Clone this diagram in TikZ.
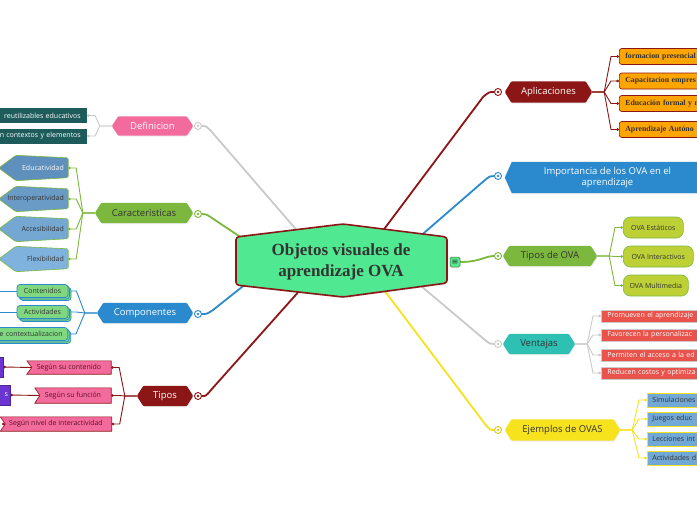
\documentclass[tikz,border=0pt]{standalone}
\usepackage{fontspec}
\setmainfont{Open Sans}
\newfontfamily\serifb{Liberation Serif}
\newfontfamily\symf{DejaVu Sans}
\usetikzlibrary{arrows.meta,shadows}
\pgfdeclarelayer{back}\pgfdeclarelayer{edges}\pgfdeclarelayer{bg}
\pgfsetlayers{back,edges,bg,main}
\definecolor{cgrey}{HTML}{CACACA}
\definecolor{cpink}{HTML}{F26B9C}
\definecolor{cteal}{HTML}{1E5C5C}
\definecolor{cgreen}{HTML}{7CB83E}
\definecolor{cbA}{HTML}{5E8FBD}
\definecolor{cbB}{HTML}{6A9BC7}
\definecolor{cbC}{HTML}{74A7D2}
\definecolor{cbD}{HTML}{7FB3DD}
\definecolor{cblue}{HTML}{2A8ACD}
\definecolor{clgreen}{HTML}{7FD87F}
\definecolor{cred}{HTML}{8C1515}
\definecolor{cpurple}{HTML}{6A35D2}
\definecolor{corange}{HTML}{FFA502}
\definecolor{colive}{HTML}{BDD036}
\definecolor{cturq}{HTML}{2EC0B2}
\definecolor{ccoral}{HTML}{E9534B}
\definecolor{cyellow}{HTML}{F7E21E}
\definecolor{csteel}{HTML}{72A8D6}
\definecolor{cmint}{HTML}{50E890}
\definecolor{cdark}{HTML}{333333}
\definecolor{cmaroon}{HTML}{5C1224}
\newcommand\fsz[1]{\fontsize{#1}{#1}\selectfont}
% hexagonal branch: name, centre, width, height, fill, text colour, text
\newcommand\hexbr[7]{%
  \node[minimum width=#3pt, minimum height=#4pt, inner sep=0pt, text=#6, font=\fsz{9.5}] (#1) at (#2) {#7};
  \begin{pgfonlayer}{bg}
  \fill[#5, rounded corners=1pt, drop shadow={opacity=0.15, shadow xshift=0.8pt, shadow yshift=-0.8pt}] (#1.west) -- ([xshift=6.5pt]#1.north west) -- ([xshift=-6.5pt]#1.north east) -- (#1.east) -- ([xshift=-6.5pt]#1.south east) -- ([xshift=6.5pt]#1.south west) -- cycle;
  \end{pgfonlayer}}
% arrow-shaped child of Caracteristicas: name, y, fill, text colour, text
\newcommand\carc[5]{%
  \node[minimum width=52pt, minimum height=19pt, inner sep=0pt] (#1) at (42,#2) {};
  \node[font=\fsz{7}, text=#4, anchor=east, inner sep=0pt] (#1t) at (64,#2) {#5};
  \begin{pgfonlayer}{bg}
  \filldraw[fill=#3, draw=cgreen, line width=0.6pt, rounded corners=1.5pt] ([xshift=-17pt]#1.west) -- ([yshift=3pt]#1.north west) -- ([yshift=0.5pt]#1.north east) -- (#1.south east) -- ([yshift=-3pt]#1.south west) -- cycle;
  \end{pgfonlayer}}
% notched banner child of Tipos: name
\newcommand\banner[1]{%
  \begin{pgfonlayer}{bg}
  \filldraw[fill=cpink, draw=cred, line width=0.6pt] (#1.north west) -- (#1.north east) -- (#1.south east) -- (#1.south west) -- ([xshift=5pt]#1.west) -- cycle;
  \end{pgfonlayer}}
\newcommand\fanL[3]{\draw[fan=#1] (#2.west) -- ++(-12,0) -- ([xshift=8pt]#3.east) -- (#3.east);}
\newcommand\fanR[3]{\draw[fan=#1] (#2.east) -- ++(12,0) -- ([xshift=-8pt]#3.west) -- (#3.west);}
\begin{document}
\begin{tikzpicture}[x=1pt,y=-1pt,
  knob/.style={circle, draw=#1, fill=white, line width=0.9pt, minimum size=7pt, inner sep=0pt,
    path picture={\fill[#1] (path picture bounding box.center) circle (1.3pt);}},
  mainln/.style={draw=#1, line width=1.8pt},
  fan/.style={draw=#1, line width=0.9pt, -{Circle[length=2.6pt]}},
  defc/.style={fill=cteal, text=white, font=\fsz{7}, anchor=east, text width=120pt, align=right, inner xsep=6pt, inner ysep=0pt, minimum height=15pt},
  compc/.style={fill=clgreen, draw=cblue, line width=0.7pt, rounded corners=3pt, font=\fsz{7}, text=cdark, minimum height=13pt, inner sep=0pt, double copy shadow={shadow xshift=1.5pt, shadow yshift=-1.5pt}},
  tipc/.style={font=\fsz{7}, text=cmaroon, inner sep=0pt},
  applc/.style={fill=corange, draw=cred, line width=0.7pt, rounded corners=2.5pt, font=\serifb\bfseries\fsz{7.8}, text=cdark, anchor=west, text width=120pt, align=left, inner xsep=6pt, inner ysep=0pt, minimum height=16pt},
  tovac/.style={fill=colive, draw=cgreen, line width=0.6pt, rounded corners=7pt, font=\fsz{7}, text=cdark, anchor=west, inner xsep=5pt, inner ysep=0pt, minimum height=21pt},
  venc/.style={fill=ccoral, draw=cgrey, line width=0.9pt, font=\fsz{7}, text=white, anchor=west, text width=120pt, align=left, inner xsep=6pt, inner ysep=0pt, minimum height=12pt},
  ejec/.style={fill=csteel, draw=cyellow, line width=0.9pt, font=\fsz{7}, text=cdark, anchor=west, text width=100pt, align=left, inner xsep=5pt, inner ysep=0pt, minimum height=14pt}
]
\useasboundingbox (0,0) rectangle (697,520);
\begin{pgfonlayer}{back}
\fill[white] (0,0) rectangle (697,520);
\end{pgfonlayer}

% ---------- central node ----------
\node[font={\serifb\bfseries\fontsize{17}{21}\selectfont}, text=cdark, align=center] (ova) at (341,262) {Objetos visuales de\\aprendizaje OVA};
\begin{pgfonlayer}{bg}
\filldraw[fill=cmint, draw=cred, line width=1.6pt, rounded corners=3pt, drop shadow={opacity=0.25, shadow xshift=1pt, shadow yshift=-1pt}]
  (236,237) -- (343,224) -- (447,237) -- (447,283) -- (343,297) -- (236,285) -- cycle;
\end{pgfonlayer}
\node[fill=cmint, draw=cgreen!60!black, line width=0.5pt, rounded corners=1.5pt, minimum size=10pt, inner sep=0pt, font=\symf\fsz{8}, text=cdark] (icon) at (455,262) {≡};
\coordinate (cDef) at (300,234);
\coordinate (cCar) at (245,240);
\coordinate (cComp) at (247,283);
\coordinate (cTip) at (301,289);
\coordinate (cApl) at (382,232);
\coordinate (cImp) at (417,239);
\coordinate (cVen) at (421,286);
\coordinate (cEje) at (384,290);

% ---------- left branches ----------
\hexbr{def}{152.5,126}{81}{19}{cpink}{white}{Definicion}
\hexbr{car}{144,213}{98}{20}{cgreen}{cdark}{Caracteristicas}
\hexbr{comp}{145,313}{96}{20}{cblue}{white}{Componentes}
\hexbr{tip}{165,396}{56}{20}{cred}{white}{Tipos}
\node[knob=cgrey] (kdef) at (198,126) {};
\node[knob=cgreen] (kcar) at (198,214) {};
\node[knob=cblue] (kcomp) at (198,314) {};
\node[knob=cred] (ktip) at (198,396) {};

% Definicion children
\node[defc] (d1) at (87,115.5) {reutilizables educativos};
\node[defc] (d2) at (87,136) {n contextos y elementos};

% Caracteristicas children
\carc{e1}{168}{cbA}{white}{Educatividad}
\carc{e2}{199}{cbB}{cdark}{Interoperatividad}
\carc{e3}{229}{cbC}{cdark}{Accesibilidad}
\carc{e4}{259}{cbD}{cdark}{Flexibilidad}

% Componentes children
\node[compc, minimum width=51pt] (k1) at (42.5,291) {Contenidos};
\node[compc, minimum width=51pt] (k2) at (42.5,312) {Actividades};
\node[compc, anchor=east, text width=80pt, align=right, inner xsep=5pt] (k3) at (68,334) {e contextualizacion};
\coordinate (k1o) at (-3,291);
\coordinate (k2o) at (-3,312);

% Tipos children
\node[tipc, minimum width=84pt, minimum height=13pt] (t1) at (69,367.5) {Según su contenido};
\node[tipc, minimum width=76pt, minimum height=15pt] (t2) at (73,395.5) {Según su función};
\node[tipc, minimum width=111pt, minimum height=14pt] (t3) at (56,424) {Según nivel de interactividad};
\banner{t1}\banner{t2}\banner{t3}
\node[fill=cpurple, draw=cpurple!70!black, line width=0.5pt, minimum width=10pt, minimum height=20pt, inner sep=0pt] (p1) at (-2,367) {};
\node[fill=cpurple, draw=cpurple!70!black, line width=0.5pt, text=white, font=\fsz{7}, minimum height=20pt, text width=11pt, align=right, inner xsep=2pt, inner ysep=0pt] (p2) at (2.5,395) {s};
\coordinate (t3o) at (2,424);

% ---------- right branches ----------
\hexbr{apl}{548.5,92}{87}{21}{cred}{white}{Aplicaciones}
\hexbr{tova}{550,256}{94}{20}{cgreen}{cdark}{Tipos de OVA}
\hexbr{ven}{539,344}{72}{20}{cturq}{cdark}{Ventajas}
\hexbr{eje}{562.5,430}{115}{21}{cyellow}{cdark}{Ejemplos de OVAS}
\node[minimum width=205pt, minimum height=31pt, inner sep=0pt, text=white, font={\fontsize{9.5}{11.5}\selectfont}, align=center] (imp) at (607.5,177.5) {Importancia de los OVA en el\\aprendizaje};
\begin{pgfonlayer}{bg}
\fill[cblue, drop shadow={opacity=0.15, shadow xshift=0.8pt, shadow yshift=-0.8pt}] (imp.west) -- ([xshift=7pt]imp.north west) -- (imp.north east) -- (imp.south east) -- ([xshift=7pt]imp.south west) -- cycle;
\end{pgfonlayer}
\node[knob=cred] (kapl) at (498,92) {};
\node[knob=cblue] (kimp) at (498,176) {};
\node[knob=cgreen] (ktova) at (498,256) {};
\node[knob=cgrey] (kven) at (498,344) {};
\node[knob=cyellow!90!black] (keje) at (498,430) {};

% Aplicaciones children
\node[applc] (a1) at (619,56.5) {formacion presencial};
\node[applc] (a2) at (619,81) {Capacitacion empres};
\node[applc] (a3) at (619,103.5) {Educación formal y n};
\node[applc] (a4) at (619,129.5) {Aprendizaje Autóno};

% Tipos de OVA children
\node[tovac, minimum width=60pt] (o1) at (623,227.5) {OVA Estáticos};
\node[tovac, minimum width=70pt] (o2) at (623,256.5) {OVA Interactivos};
\node[tovac, minimum width=65pt] (o3) at (623,285.5) {OVA Multimedia};

% Ventajas children
\node[venc] (v1) at (601,316) {Promueven el aprendizaje};
\node[venc] (v2) at (601,335) {Favorecen la personalizac};
\node[venc] (v3) at (601,355) {Permiten el acceso a la ed};
\node[venc] (v4) at (601,373) {Reducen costos y optimiza};

% Ejemplos children
\node[ejec] (x1) at (647,400) {Simulaciones};
\node[ejec] (x2) at (647,419) {Juegos educ};
\node[ejec] (x3) at (647,439) {Lecciones int};
\node[ejec] (x4) at (647,458) {Actividades d};

% ---------- connectors ----------
\begin{pgfonlayer}{edges}
\draw[mainln=cgrey] (kdef.east) .. controls (206,126) .. (211,131) -- (cDef);
\draw[mainln=cgreen] (kcar.east) .. controls (206,214) .. (212,218) -- (cCar);
\draw[mainln=cblue] (kcomp.east) .. controls (207,314) .. (213,310) -- (cComp);
\draw[mainln=cred] (ktip.east) .. controls (206,396) .. (211,390) -- (cTip);
\draw[mainln=cred] (kapl.west) .. controls (489,92) .. (483,97) -- (cApl);
\draw[mainln=cblue] (kimp.west) .. controls (490,176) .. (485,180) -- (cImp);
\draw[mainln=cgreen] (icon.east) .. controls (480,262) and (485,256) .. (ktova.west);
\draw[mainln=cgrey] (kven.west) .. controls (490,344) .. (485,340) -- (cVen);
\draw[mainln=cyellow] (keje.west) .. controls (490,430) .. (485,424) -- (cEje);

\fanL{cgrey}{def}{d1}\fanL{cgrey}{def}{d2}
\fanL{cgreen}{car}{e1}\fanL{cgreen}{car}{e2}\fanL{cgreen}{car}{e3}\fanL{cgreen}{car}{e4}
\fanL{cblue}{comp}{k1}\fanL{cblue}{comp}{k2}\fanL{cblue}{comp}{k3}
\fanL{cred}{tip}{t1}\fanL{cred}{tip}{t2}\fanL{cred}{tip}{t3}
\draw[cblue, line width=0.9pt] (k1.west) -- (k1o);
\draw[cblue, line width=0.9pt] (k2.west) -- (k2o);
\draw[fan=cred] ([xshift=5pt]t1.west) -- (p1.east);
\draw[fan=cred] ([xshift=5pt]t2.west) -- (p2.east);
\draw[fan=cred] ([xshift=5pt]t3.west) -- (t3o);

\fanR{cred}{apl}{a1}\fanR{cred}{apl}{a2}\fanR{cred}{apl}{a3}\fanR{cred}{apl}{a4}
\fanR{cgreen}{tova}{o1}\fanR{cgreen}{tova}{o2}\fanR{cgreen}{tova}{o3}
\fanR{cgrey}{ven}{v1}\fanR{cgrey}{ven}{v2}\fanR{cgrey}{ven}{v3}\fanR{cgrey}{ven}{v4}
\fanR{cyellow}{eje}{x1}\fanR{cyellow}{eje}{x2}\fanR{cyellow}{eje}{x3}\fanR{cyellow}{eje}{x4}
\end{pgfonlayer}
\end{tikzpicture}
\end{document}
